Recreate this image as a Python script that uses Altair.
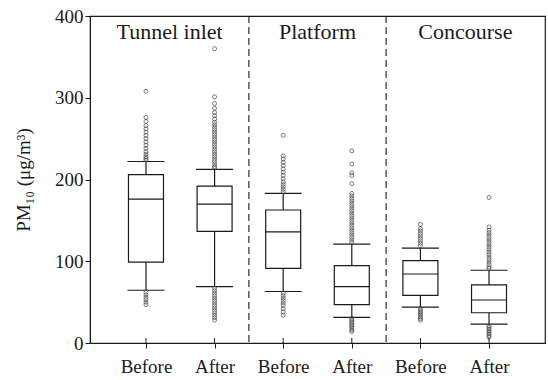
import altair as alt
import pandas as pd

# ---- data ----
positions = [1, 2, 3, 4, 5, 6]
tick_labels = ["Before", "After", "Before", "After", "Before", "After"]
lower_whisker = [64.5, 69, 63, 31.4, 44, 23]
q1 = [99, 136.6, 91.4, 47, 58.3, 37]
median = [176, 170, 136, 69, 84.4, 52.6]
q3 = [206, 192, 162.7, 94.6, 100.7, 71]
upper_whisker = [222, 212.5, 183, 121, 116, 89]

out_1 = [308, 276, 271, 266, 262, 258, 254, 250, 246, 242, 238, 234, 231, 228, 226, 224,
         62, 59, 56, 53, 50, 47]
out_2 = [360, 301, 293, 287, 282, 278, 274, 270, 267, 264, 261, 258, 255, 252, 249, 246,
         243, 240, 237, 234, 231, 228, 225, 222, 219, 216, 214,
         67, 64, 61, 58, 55, 52, 49, 46, 43, 40, 37, 34, 31, 28]
out_3 = [254, 229, 225, 221, 217, 213, 209, 205, 201, 197, 194, 191, 188, 185,
         61, 58, 55, 52, 49, 46, 42, 38, 34]
out_4 = [235, 219, 208, 205, 195, 183, 180, 177, 174, 171, 168, 165, 162, 159, 156, 153,
         150, 147, 144, 141, 138, 135, 132, 129, 126, 123,
         30, 28, 26, 24, 22, 20, 18, 16, 14]
out_5 = [145, 140, 137, 134, 131, 128, 125, 122, 119,
         42, 40, 38, 36, 34, 32, 30, 28]
out_6 = [178, 142, 138, 135, 132, 129, 126, 123, 120, 117, 114, 111, 108, 105, 102, 99,
         96, 93, 91,
         21, 19, 17, 15, 13, 11, 9, 7]
outliers = [out_1, out_2, out_3, out_4, out_5, out_6]

sections = ["Tunnel inlet", "Platform", "Concourse"]
section_centers = [1.345, 3.5, 5.655]
separators = [2.5, 4.5]

# ---- tables ----
boxes = pd.DataFrame({
    "pos": positions, "lo": lower_whisker, "q1": q1, "med": median,
    "q3": q3, "hi": upper_whisker,
})
pts = pd.DataFrame(
    [{"pos": p, "v": v} for p, vals in zip(positions, outliers) for v in vals]
)
sec = pd.DataFrame({"name": sections, "x": section_centers})
sep = pd.DataFrame({"x": separators})

SERIF = "'Times New Roman', 'Liberation Serif', 'DejaVu Serif', serif"
INK = "#1a1a1a"
label_expr = "[" + ",".join("'%s'" % t for t in tick_labels) + "][datum.value - 1]"

xscale = alt.Scale(domain=[0.184, 6.816], nice=False, zero=False)
yscale = alt.Scale(domain=[0, 400], nice=False)

xaxis = alt.Axis(values=positions, labelExpr=label_expr, title=None, grid=False,
                 tickSize=5, labelPadding=9, labelFontSize=19, labelFont=SERIF,
                 labelColor=INK, domainColor=INK, tickColor=INK, labelFlush=False)
yaxis = alt.Axis(values=[0, 100, 200, 300, 400], title="PM₁₀ (μg/m³)", grid=False,
                 tickSize=5, labelPadding=2, labelFontSize=19, labelFont=SERIF,
                 labelColor=INK, domainColor=INK, tickColor=INK,
                 titleFont=SERIF, titleFontSize=19, titleFontWeight="normal",
                 titleColor=INK, titleX=-57, titleY=163.5, titleAngle=270,
                 titleAlign="center", titleBaseline="bottom")

base = alt.Chart(boxes)

whisk = base.mark_rule(color=INK, strokeWidth=1.2).encode(
    x=alt.X("pos:Q", scale=xscale, axis=xaxis),
    y=alt.Y("lo:Q", scale=yscale, axis=yaxis),
    y2="hi:Q",
)
caps_hi = base.transform_calculate(a="datum.pos - 0.27", b="datum.pos + 0.27").mark_rule(
    color=INK, strokeWidth=1.2).encode(x="a:Q", x2="b:Q", y="hi:Q")
caps_lo = base.transform_calculate(a="datum.pos - 0.27", b="datum.pos + 0.27").mark_rule(
    color=INK, strokeWidth=1.2).encode(x="a:Q", x2="b:Q", y="lo:Q")
rect = base.transform_calculate(a="datum.pos - 0.255", b="datum.pos + 0.255").mark_rect(
    fill="white", stroke=INK, strokeWidth=1.2).encode(x="a:Q", x2="b:Q", y="q1:Q", y2="q3:Q")
med = base.transform_calculate(a="datum.pos - 0.255", b="datum.pos + 0.255").mark_rule(
    color=INK, strokeWidth=1.2).encode(x="a:Q", x2="b:Q", y="med:Q")

dots = alt.Chart(pts).mark_point(shape="circle", filled=False, size=16, color="#444",
                                 strokeWidth=1).encode(x="pos:Q", y="v:Q")

seps = alt.Chart(sep).mark_rule(color=INK, strokeWidth=1.1, strokeDash=[7, 4]).encode(
    x="x:Q", y=alt.value(0), y2=alt.value(327))

inner_ticks = base.mark_rule(color=INK, strokeWidth=1).encode(
    x="pos:Q", y=alt.value(322), y2=alt.value(327))

titles = alt.Chart(sec).mark_text(font=SERIF, fontSize=22, color=INK, baseline="alphabetic",
                                  align="center").encode(
    x="x:Q", y=alt.value(23), text="name:N")

chart = alt.layer(whisk, caps_hi, caps_lo, rect, med, dots, seps, inner_ticks, titles).properties(
    width=455, height=327,
    autosize=alt.AutoSizeParams(type="none"),
    padding={"left": 90, "top": 16, "right": 3, "bottom": 37},
    background="white",
).configure_view(stroke=INK, strokeWidth=1.2)

chart.save("out.html", embed_options={"renderer": "svg", "actions": False})
